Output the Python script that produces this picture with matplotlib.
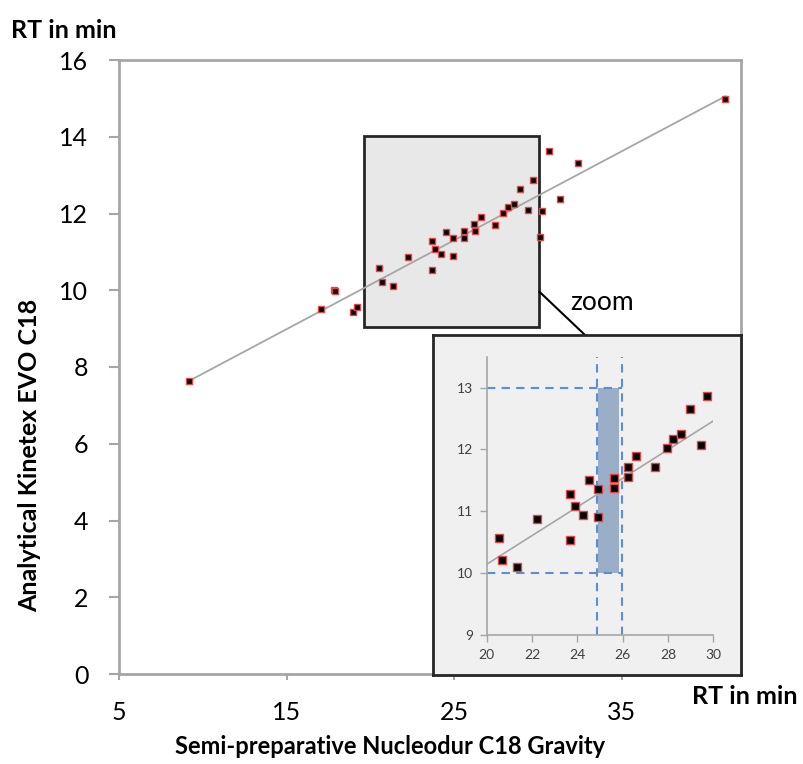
import numpy as np
import matplotlib
matplotlib.use("Agg")
import matplotlib.pyplot as plt
from matplotlib.patches import Rectangle, ConnectionPatch

plt.rcParams['font.family'] = ['Lato', 'DejaVu Sans']

# Retention times (semi-preparative x, analytical y)
rt_semi = [9.18, 17.06, 17.85, 17.92, 18.99, 19.19, 20.54, 20.69, 21.35, 22.24,
           23.66, 23.69, 23.88, 24.25, 24.53, 24.91, 24.93, 25.60, 25.62, 26.22,
           26.25, 26.60, 27.43, 27.94, 28.22, 28.57, 28.96, 29.44, 29.71, 30.13,
           30.27, 30.67, 31.31, 32.42, 41.20]
rt_anal = [7.64, 9.51, 10.01, 9.98, 9.43, 9.56, 10.57, 10.21, 10.10, 10.87,
           10.53, 11.28, 11.08, 10.94, 11.51, 10.90, 11.36, 11.37, 11.54, 11.72,
           11.55, 11.90, 11.71, 12.02, 12.17, 12.25, 12.65, 12.08, 12.86, 11.38,
           12.06, 13.63, 12.39, 13.32, 14.98]

main_xticks = [5, 15, 25, 35]
main_yticks = [0, 2, 4, 6, 8, 10, 12, 14, 16]
inset_xticks = [20, 22, 24, 26, 28, 30]
inset_yticks = [9, 10, 11, 12, 13]

zoom_x = (19.6, 30.1)
zoom_y = (9.04, 14.02)
window_x = (24.85, 25.95)
window_y = (10, 13)
band_x = (24.93, 25.85)
inset_xlim = (20, 30)
inset_ylim = (9, 13.5)

x = np.array(rt_semi)
y = np.array(rt_anal)
slope, intercept = np.polyfit(x, y, 1)
xf = np.array([x.min(), x.max()])
yf = slope * xf + intercept
in_view = (x >= inset_xlim[0]) & (x <= inset_xlim[1])

W, H = 804, 764
fig = plt.figure(figsize=(W / 100, H / 100), dpi=100)

def fx(px):
    return px / W

def fy(py):
    return 1 - py / H

# ---------- main axes ----------
ax = fig.add_axes([fx(119), fy(674), fx(741) - fx(119), fy(60) - fy(674)])
ax.set_xlim(5, 42.13)
ax.set_ylim(0, 16)
for s in ax.spines.values():
    s.set_color('#a6a6a6')
    s.set_linewidth(2)
ax.set_xticks(main_xticks)
ax.set_yticks(main_yticks)
ax.tick_params(axis='y', direction='out', length=7, width=1.5, color='#a6a6a6',
               pad=15, labelsize=18)
ax.tick_params(axis='x', direction='out', length=4.5, width=1.5, color='#a6a6a6',
               pad=15, labelsize=18)

ax.add_patch(Rectangle((zoom_x[0], zoom_y[0]), zoom_x[1] - zoom_x[0], zoom_y[1] - zoom_y[0],
                       facecolor='#e8e8e8', edgecolor='#262626', linewidth=2, zorder=1))
ax.plot(xf, yf, color='#a6a6a6', lw=1.3, zorder=2)
ax.plot(x, y, linestyle='none', marker='s', markersize=5, markerfacecolor='black',
        markeredgecolor='#e04848', markeredgewidth=1.0, zorder=3)

fig.text(fx(602), fy(303), 'zoom', fontsize=19, ha='center', va='center')

# ---------- inset box ----------
box = fig.add_axes([fx(433), fy(675), fx(741) - fx(433), fy(335) - fy(675)])
box.set_facecolor('#f0f0f0')
box.set_xticks([])
box.set_yticks([])
for s in box.spines.values():
    s.set_color('#262626')
    s.set_linewidth(2)
box.set_zorder(5)

ins = fig.add_axes([fx(486.7), fy(635), fx(713.3) - fx(486.7), fy(356.7) - fy(635)])
ins.set_zorder(6)
ins.patch.set_alpha(0)
ins.set_xlim(*inset_xlim)
ins.set_ylim(*inset_ylim)
ins.spines['top'].set_visible(False)
ins.spines['right'].set_visible(False)
for s in ['left', 'bottom']:
    ins.spines[s].set_color('#a6a6a6')
    ins.spines[s].set_linewidth(1.2)
ins.set_xticks(inset_xticks)
ins.set_yticks(inset_yticks)
ins.tick_params(direction='out', length=5, width=1, color='#a6a6a6',
                labelsize=10, labelcolor='#404040', pad=5)

ins.add_patch(Rectangle((band_x[0], window_y[0]), band_x[1] - band_x[0], window_y[1] - window_y[0],
                        facecolor='#9aaec8', edgecolor='none', zorder=1))
dash_col = '#5b8ed6'
for yy in window_y:
    ins.plot([inset_xlim[0], window_x[1]], [yy, yy], color=dash_col, ls=(0, (4, 3)), lw=1.5, zorder=2)
for xx in window_x:
    ins.plot([xx, xx], list(inset_ylim), color=dash_col, ls=(0, (4, 3)), lw=1.5, zorder=2)
ins.plot(xf, yf, color='#a6a6a6', lw=1.2, zorder=3)
ins.plot(x[in_view], y[in_view], linestyle='none', marker='s', markersize=6,
         markerfacecolor='black', markeredgecolor='#e04848', markeredgewidth=1.0, zorder=4)

con = ConnectionPatch(xyA=(zoom_x[1], 9.96), coordsA=ax.transData,
                      xyB=(0.4935, 1.0), coordsB=box.transAxes,
                      color='black', lw=1.5)
fig.add_artist(con)

# ---------- labels ----------
fig.text(fx(64), fy(30), 'RT in min', fontsize=18, fontweight='bold', ha='center', va='center')
fig.text(fx(745), fy(697), 'RT in min', fontsize=18, fontweight='bold', ha='center', va='center')
fig.text(fx(390), fy(746), 'Semi-preparative Nucleodur C18 Gravity', fontsize=17,
         fontweight='bold', ha='center', va='center')
fig.text(fx(30), fy(455), 'Analytical Kinetex EVO C18', fontsize=18, fontweight='bold',
         ha='center', va='center', rotation=90)

fig.savefig('out.png', dpi=100)
